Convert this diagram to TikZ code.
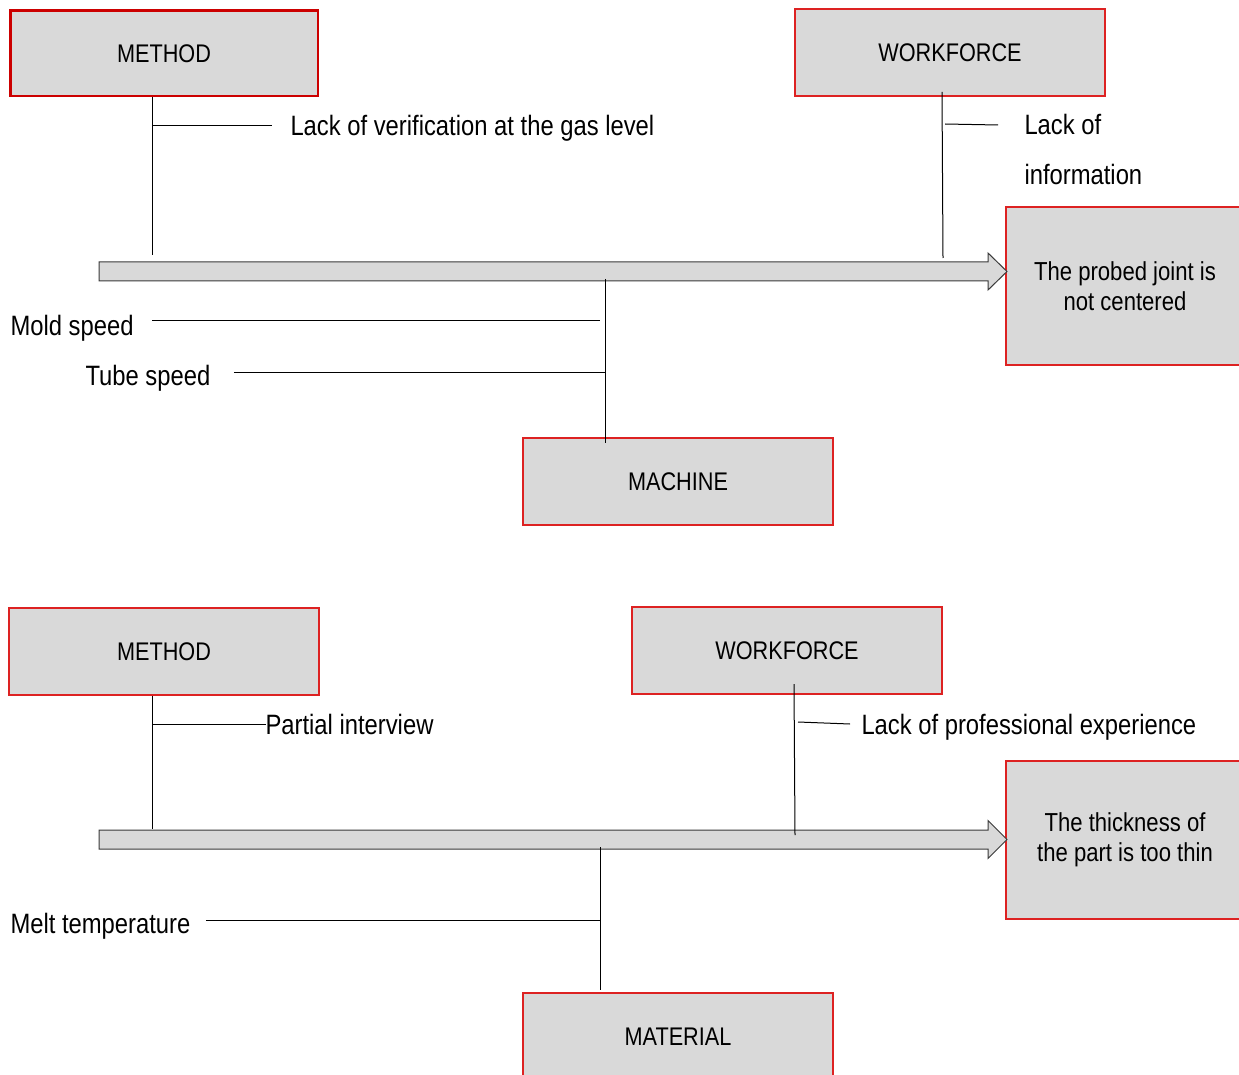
\documentclass[tikz,border=0pt]{standalone}
\usepackage{fontspec}
\setmainfont{Liberation Sans}[FakeStretch=0.85]
\usetikzlibrary{calc}
\definecolor{boxgray}{HTML}{D9D9D9}
\definecolor{boxred}{HTML}{DD2222}
\definecolor{spinegray}{HTML}{3A3A3A}

\begin{document}
\begin{tikzpicture}[x=1pt, y=-1pt, line width=1pt]
    \tikzstyle{cause} = [draw=boxred, line width=1.1pt, fill=boxgray, minimum width=310, minimum height=87, inner sep=0, text centered, font=\fontsize{25.5}{30}\selectfont]
    \tikzstyle{effect} = [cause, minimum width=238, minimum height=158, align=center, font=\fontsize{26}{30.5}\selectfont]
    \tikzstyle{bonetext} = [anchor=west, inner sep=0, text height=20, text depth=0, font=\fontsize{28}{30}\selectfont]
    \tikzstyle{spine} = [draw=spinegray, fill=boxgray, line width=1pt]
    \useasboundingbox (0,0) rectangle (1239,1075);
    \clip (0,0) rectangle (1239,1075);

    % first diagram
    \node [cause, line width=2.5pt, draw=red!80!black, minimum width=307.5, minimum height=85.5] at (164,53.5) (method1) {METHOD};
    \node [cause] at (950,52.5) (workforce1) {WORKFORCE};
    \node [effect] at (1125,286) (effect1) {The probed joint is\\not centered};
    \node [cause] at (678,481.5) (machine1) {MACHINE};
    \node [bonetext] at (290,126) (gas) {Lack of verification at the gas level};
    \node [bonetext] at (1024,125) (lackof) {Lack of};
    \node [bonetext] at (1024,175) (info) {information};
    \node [bonetext] at (10,325) (mold) {Mold speed};
    \node [bonetext] at (85,375) (tube) {Tube speed};
    \coordinate (s1) at (99,271.5);
    \coordinate (t1) at (1007,271.5);
    \draw [spine] ($(s1)+(0,-9.5)$) -- ($(t1)+(-19,-9.5)$) -- ($(t1)+(-19,-18.5)$) -- (t1)
        -- ($(t1)+(-19,18.5)$) -- ($(t1)+(-19,9.5)$) -- ($(s1)+(0,9.5)$) -- cycle;
    \coordinate (m1) at (152,255);
    \draw (m1 |- method1.south) -- (m1);
    \draw (m1 |- gas.west) -- ([xshift=-18]gas.west);
    \coordinate (w1top) at (942,92);
    \coordinate (w1bot) at (943,258);
    \draw (w1top) -- (w1bot);
    \draw (945,124) -- ([xshift=-26]lackof.west);
    \coordinate (k1top) at (605,279);
    \coordinate (k1bot) at (605,443);
    \draw (k1top) -- (k1bot);
    \coordinate (j1) at (600,320);
    \coordinate (j2) at (605,372);
    \draw ($(mold.east |- j1)+(18,0)$) -- (j1);
    \draw ($(tube.east |- j2)+(23,0)$) -- (j2);

    % second diagram
    \node [cause] at (164,651.5) (method2) {METHOD};
    \node [cause] at (787,650.5) (workforce2) {WORKFORCE};
    \node [effect] at (1125,840) (effect2) {The thickness of\\the part is too thin};
    \node [cause] at (678,1036.5) (material2) {MATERIAL};
    \node [bonetext] at (265,724) (partial) {Partial interview};
    \node [bonetext] at (861,724) (experience) {Lack of professional experience};
    \node [bonetext] at (10,923) (melt) {Melt temperature};
    \coordinate (s2) at (99,839.5);
    \coordinate (t2) at (1007,839.5);
    \draw [spine] ($(s2)+(0,-9.5)$) -- ($(t2)+(-19,-9.5)$) -- ($(t2)+(-19,-19)$) -- (t2)
        -- ($(t2)+(-19,19)$) -- ($(t2)+(-19,9.5)$) -- ($(s2)+(0,9.5)$) -- cycle;
    \coordinate (m2) at (152,829);
    \draw (m2 |- method2.south) -- (m2);
    \draw (m2 |- partial.west) -- ([xshift=1]partial.west);
    \coordinate (w2top) at (794,684);
    \coordinate (w2bot) at (795,835);
    \draw (w2top) -- (w2bot);
    \draw (798,722) -- ([xshift=-11]experience.west);
    \coordinate (k2top) at (600,847);
    \coordinate (k2bot) at (600,990);
    \draw (k2top) -- (k2bot);
    \coordinate (j3) at (600,920);
    \draw ($(melt.east |- j3)+(15,0)$) -- (j3);
\end{tikzpicture}
\end{document}
